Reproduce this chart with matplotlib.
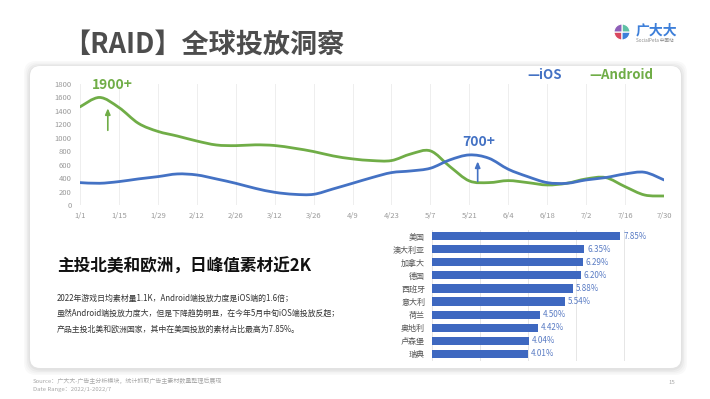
import numpy as np
import pandas as pd
import matplotlib
matplotlib.use("Agg")
import matplotlib.pyplot as plt
import matplotlib.dates as mdates
from matplotlib.path import Path
from matplotlib.patches import PathPatch, FancyBboxPatch, Wedge

plt.rcParams['font.family'] = ['Noto Sans CJK SC', 'DejaVu Sans']

# ---------------- data ----------------
week_dates = pd.date_range('2022-01-01', '2022-07-30', freq='7D')
android = [1460, 1600, 1450, 1215, 1095, 1026, 952, 893, 883, 895, 885, 845, 795, 730, 686, 661,
           661, 760, 805, 572, 358, 333, 363, 333, 298, 323, 388, 408, 273, 149, 134]
ios = [333, 323, 348, 388, 422, 462, 447, 388, 323, 248, 189, 159, 159, 239, 323, 408,
       482, 507, 547, 671, 745, 696, 532, 422, 333, 323, 373, 408, 462, 487, 373]
tick_dates = pd.date_range('2022-01-01', '2022-07-30', freq='14D')

countries = ['美国', '澳大利亚', '加拿大', '德国', '西班牙', '意大利', '荷兰', '奥地利', '卢森堡', '瑞典']
shares = [7.85, 6.35, 6.29, 6.20, 5.88, 5.54, 4.50, 4.42, 4.04, 4.01]

title = '【RAID】全球投放洞察'
headline = '主投北美和欧洲，日峰值素材近2K'
body = ['2022年游戏日均素材量1.1K，Android端投放力度是iOS端的1.6倍；',
        '虽然Android端投放力度大，但是下降趋势明显，在今年5月中旬iOS端投放反超；',
        '产品主投北美和欧洲国家，其中在美国投放的素材占比最高为7.85%。']

GREEN = '#70ad47'
BLUE = '#4472c4'
BAR = '#3e68c0'

W, H = 710, 399
fig = plt.figure(figsize=(W / 100, H / 100), dpi=100)
fig.patch.set_facecolor('white')

def fx(px):
    return px / W

def fy(py):
    return 1 - py / H

# ---------------- card background ----------------
bg = fig.add_axes([0, 0, 1, 1])
bg.set_xlim(0, W)
bg.set_ylim(H, 0)
bg.axis('off')
for i, a in enumerate([0.025, 0.025, 0.03, 0.035]):
    g = 6 - i * 1.5
    bg.add_patch(FancyBboxPatch((30 - g, 66 - g + 1), 651 + 2 * g, 302 + 2 * g,
                                boxstyle='round,pad=0,rounding_size=12',
                                fc='black', ec='none', alpha=a, zorder=0))
bg.add_patch(FancyBboxPatch((30, 66), 651, 302, boxstyle='round,pad=0,rounding_size=10',
                            fc='white', ec='none', zorder=1))

# logo
cx, cy, r = 622, 32, 8
for th1, th2, c in [(90, 180, '#d9475f'), (0, 90, '#3d7fd9'), (270, 360, '#5fc0a6'), (180, 270, '#8e5fb8')]:
    bg.add_patch(Wedge((cx, cy), r, th1, th2, fc=c, ec='white', lw=0.8, zorder=2))
fig.text(fx(636), fy(30), '广大大', color='#3d7fd9', fontsize=10, fontweight='bold', va='center', ha='left')
fig.text(fx(636), fy(41), 'SocialPeta 中国站', color='#888888', fontsize=3.3, va='center', ha='left')

# title
fig.text(fx(63), fy(45), title, fontsize=19.5, fontweight='bold', color='#4d4d4d', va='center', ha='left')

# ---------------- line chart ----------------
ax = fig.add_axes([fx(80), fy(205), fx(584), 121 / H])
ax.set_facecolor('none')
x0 = mdates.date2num(week_dates)

def smooth_path(xs, ys):
    xs = np.asarray(xs, float)
    ys = np.asarray(ys, float)
    pts = np.column_stack([xs, ys])
    verts = [pts[0]]
    codes = [Path.MOVETO]
    n = len(pts)
    for i in range(n - 1):
        p0 = pts[i - 1] if i > 0 else pts[i]
        p1 = pts[i]
        p2 = pts[i + 1]
        p3 = pts[i + 2] if i + 2 < n else pts[i + 1]
        c1 = p1 + (p2 - p0) / 6
        c2 = p2 - (p3 - p1) / 6
        verts += [c1, c2, p2]
        codes += [Path.CURVE4] * 3
    return Path(verts, codes)

ax.add_patch(PathPatch(smooth_path(x0, android), fc='none', ec=GREEN, lw=2.0, capstyle='round', zorder=3))
ax.add_patch(PathPatch(smooth_path(x0, ios), fc='none', ec=BLUE, lw=2.0, capstyle='round', zorder=3))
# invisible plots to register data limits
ax.plot(week_dates, android, alpha=0)
ax.plot(week_dates, ios, alpha=0)

ax.set_xlim(week_dates[0], week_dates[-1])
ax.set_ylim(0, 1800)
ax.set_yticks(np.arange(0, 1801, 200))
ax.set_xticks(tick_dates)
ax.set_xticklabels([f'{d.month}/{d.day}' for d in tick_dates])
ax.tick_params(axis='both', length=0, labelsize=5.5, colors='#9a9a9a', pad=4)
ax.tick_params(axis='y', pad=6)
ax.tick_params(axis='x', pad=5)
ax.grid(axis='x', color='#eeeeee', lw=0.7)
for s in ax.spines.values():
    s.set_visible(False)

d_ann1 = week_dates[0] + pd.Timedelta(days=10)
d_ann2 = week_dates[0] + pd.Timedelta(days=143)
ax.annotate('', xy=(d_ann1, 1480), xytext=(d_ann1, 1070),
            arrowprops=dict(arrowstyle='-|>,head_length=0.35,head_width=0.15', color=GREEN, lw=1.2))
ax.annotate('', xy=(d_ann2, 690), xytext=(d_ann2, 310),
            arrowprops=dict(arrowstyle='-|>,head_length=0.35,head_width=0.15', color=BLUE, lw=1.2))
ax.text(week_dates[0] + pd.Timedelta(days=11.5), 1780, '1900+', color=GREEN, fontsize=10,
        fontweight='bold', ha='center', va='center', clip_on=False)
ax.text(week_dates[0] + pd.Timedelta(days=143.5), 940, '700+', color=BLUE, fontsize=10,
        fontweight='bold', ha='center', va='center', clip_on=False)

# legend
fig.text(fx(527), fy(75), '—iOS', color=BLUE, fontsize=9.5, fontweight='bold', va='center', ha='left')
fig.text(fx(589), fy(75), '—Android', color=GREEN, fontsize=9.5, fontweight='bold', va='center', ha='left')

# ---------------- bar chart ----------------
bx = fig.add_axes([fx(432), fy(360.5), fx(240), 131 / H])
bx.set_facecolor('none')
ypos = np.arange(len(countries))
bars = bx.barh(ypos, shares, height=0.62, color=BAR, zorder=3)
bx.set_xlim(0, 10)
bx.set_ylim(len(countries) - 0.5, -0.5)
bx.set_xticks(np.arange(0, 11, 2))
bx.set_xticklabels([])
bx.set_yticks(ypos)
bx.set_yticklabels(countries)
bx.tick_params(axis='both', length=0, labelsize=5.8, colors='#555555')
bx.tick_params(axis='y', pad=5)
bx.grid(axis='x', color='#e6e6e6', lw=0.7)
for s in bx.spines.values():
    s.set_visible(False)
for b, v in zip(bars, shares):
    bx.text(v + 0.12, b.get_y() + b.get_height() / 2, f'{v:.2f}%', color='#5a7cc4',
            fontsize=5.8, va='center', ha='left')

# ---------------- text block ----------------
fig.text(fx(57), fy(267), headline, fontsize=12, fontweight='bold', color='#111111', va='center', ha='left')
for i, line in enumerate(body):
    fig.text(fx(57), fy(298 + i * 15.5), line, fontsize=5.7, color='#333333', va='center', ha='left')

fig.text(fx(33), fy(381), 'Source：广大大-广告主分析模块，统计抓取广告主素材数量整理后展现', fontsize=4.3,
         color='#a8a8a8', va='center', ha='left')
fig.text(fx(33), fy(389), 'Date Range：2022/1-2022/7', fontsize=4.3, color='#a8a8a8', va='center', ha='left')
fig.text(fx(672), fy(382), '15', fontsize=4.3, color='#a8a8a8', va='center', ha='center')

fig.savefig('out.png', dpi=100, facecolor='white')
